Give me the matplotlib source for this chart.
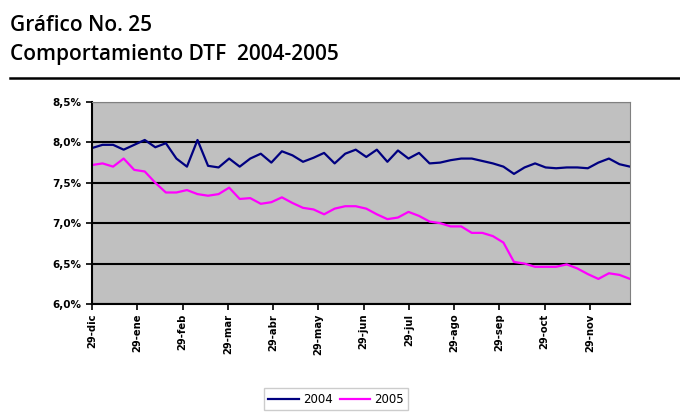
import numpy as np
import matplotlib
matplotlib.use('Agg')
import matplotlib.pyplot as plt
from matplotlib.ticker import FuncFormatter

# weekly DTF rates (%)
dtf_2004 = [7.93, 7.97, 7.97, 7.91, 7.97, 8.03, 7.94, 7.99, 7.80, 7.70,
            8.03, 7.71, 7.69, 7.80, 7.70, 7.80, 7.86, 7.75, 7.89, 7.84,
            7.76, 7.81, 7.87, 7.74, 7.86, 7.91, 7.82, 7.91, 7.76, 7.90,
            7.80, 7.87, 7.74, 7.75, 7.78, 7.80, 7.80, 7.77, 7.74, 7.70,
            7.61, 7.69, 7.74, 7.69, 7.68, 7.69, 7.69, 7.68, 7.75, 7.80,
            7.73, 7.70]
dtf_2005 = [7.72, 7.74, 7.70, 7.80, 7.66, 7.64, 7.50, 7.38, 7.38, 7.41,
            7.36, 7.34, 7.36, 7.44, 7.30, 7.31, 7.24, 7.26, 7.32, 7.25,
            7.19, 7.17, 7.11, 7.18, 7.21, 7.21, 7.18, 7.11, 7.05, 7.07,
            7.14, 7.09, 7.02, 7.00, 6.96, 6.96, 6.88, 6.88, 6.84, 6.76,
            6.52, 6.50, 6.46, 6.46, 6.46, 6.49, 6.44, 6.37, 6.31, 6.38,
            6.36, 6.31]
month_labels = ['29-dic', '29-ene', '29-feb', '29-mar', '29-abr', '29-may',
                '29-jun', '29-jul', '29-ago', '29-sep', '29-oct', '29-nov']
y_ticks = [6.0, 6.5, 7.0, 7.5, 8.0, 8.5]

weeks = np.arange(len(dtf_2004))
month_pos = np.arange(len(month_labels)) * 4.29

fig = plt.figure(figsize=(6.8, 4.13), dpi=100)

# header
fig.text(0.015, 0.925, 'Gráfico No. 25', fontsize=15, fontfamily='Open Sans',
         fontweight='semibold', ha='left', va='baseline')
fig.text(0.015, 0.855, 'Comportamiento DTF  2004-2005', fontsize=15, fontfamily='Open Sans',
         fontweight='semibold', ha='left', va='baseline')
fig.add_artist(plt.Line2D([0.015, 1.0], [0.811, 0.811], color='black', lw=1.8,
                          transform=fig.transFigure))

ax = fig.add_axes([0.1353, 0.264, 0.7912, 0.489])
ax.set_facecolor('#C0C0C0')
ax.plot(weeks, dtf_2004, color='#000080', lw=1.6, label='2004')
ax.plot(weeks, dtf_2005, color='#FF00FF', lw=1.6, label='2005')

ax.set_xlim(0, len(weeks) - 1)
ax.set_ylim(6.0, 8.5)
ax.set_yticks(y_ticks)
ax.yaxis.set_major_formatter(FuncFormatter(lambda v, p: f'{v:.1f}%'.replace('.', ',')))
ax.set_xticks(month_pos)
ax.set_xticklabels(month_labels, rotation=90, fontsize=7.2)
ax.tick_params(axis='y', labelsize=7.5, length=4, width=1.2, direction='out')
ax.tick_params(axis='x', length=4, width=1.2, direction='out', pad=3)
for lab in ax.get_yticklabels():
    lab.set_fontweight('bold')
for lab in ax.get_xticklabels():
    lab.set_fontweight('bold')

ax.grid(axis='y', color='black', lw=1.5)
ax.set_axisbelow(True)
ax.spines['left'].set_linewidth(1.5)
ax.spines['bottom'].set_linewidth(1.5)
ax.spines['top'].set_color('#808080')
ax.spines['right'].set_color('#808080')

fig.legend(loc='upper center', bbox_to_anchor=(0.494, 0.075), ncol=2, fontsize=8.5,
           frameon=True, fancybox=False, edgecolor='#C0C0C0', handlelength=2.6,
           columnspacing=0.6, handletextpad=0.3, borderpad=0.4)

fig.savefig('out.png', dpi=100)
